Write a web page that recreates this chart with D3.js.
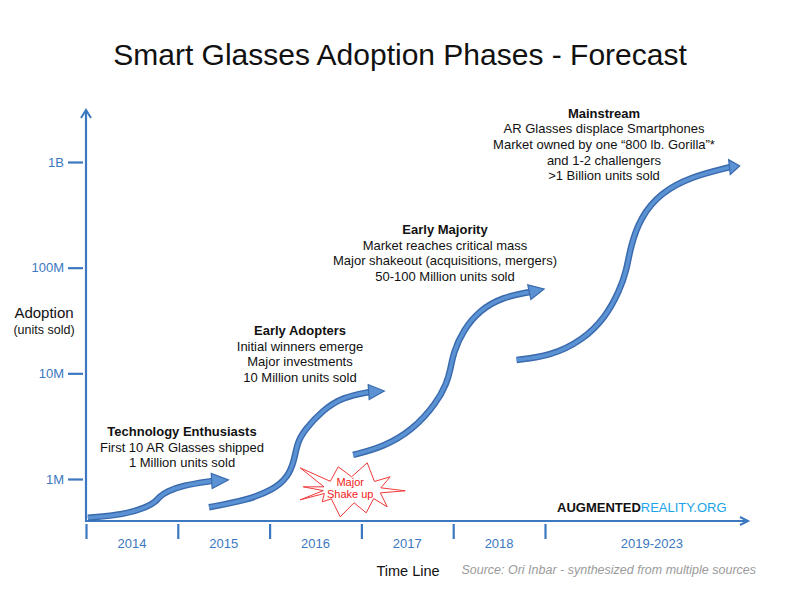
<!DOCTYPE html>
<html>
<head>
<meta charset="utf-8">
<script src="https://cdn.jsdelivr.net/npm/d3@7"></script>
<style>
  body { margin: 0; background: #fff; }
  text { font-family: "Liberation Sans", Arial, Helvetica, sans-serif; }
</style>
</head>
<body>
<svg id="chart" width="800" height="600"></svg>
<script>
// time line periods
var periods = ["2014", "2015", "2016", "2017", "2018", "2019-2023"];
var periodStarts = [2014, 2015, 2016, 2017, 2018, 2019];
var periodEnds = [2015, 2016, 2017, 2018, 2019, 2021.33];

// adoption ticks (units sold, log)
var adoptionTicks = [1e6, 1e7, 1e8, 1e9];
var adoptionLabels = ["1M", "10M", "100M", "1B"];

// the four phase curves: year, units sold. last point is the arrow tip
var enthusiastsYears = [2014.02, 2014.42, 2014.66, 2014.76, 2014.80, 2014.88, 2015.05, 2015.38, 2015.55];
var enthusiastsUnits = [0.43e6, 0.46e6, 0.54e6, 0.61e6, 0.68e6, 0.76e6, 0.87e6, 0.96e6, 0.98e6];

var adoptersYears = [2015.34, 2015.75, 2016.04, 2016.20, 2016.27, 2016.30, 2016.38, 2016.58, 2016.80, 2017.09, 2017.25];
var adoptersUnits = [0.54e6, 0.63e6, 0.79e6, 1.04e6, 1.51e6, 2.19e6, 2.91e6, 4.5e6, 5.97e6, 6.66e6, 6.8e6];

var majorityYears = [2016.91, 2017.24, 2017.56, 2017.82, 2017.93, 2017.97, 2018.00, 2018.11, 2018.29, 2018.54, 2018.84, 2018.99];
var majorityUnits = [1.69e6, 2.01e6, 2.91e6, 5.24e6, 8.1e6, 10.8e6, 15.6e6, 25.7e6, 39.7e6, 52.7e6, 58.9e6, 62.8e6];

var mainstreamYears = [2018.69, 2019.05, 2019.41, 2019.66, 2019.81, 2019.89, 2019.93, 2020.04, 2020.26, 2020.58, 2021.02, 2021.12];
var mainstreamUnits = [13.4e6, 14.5e6, 20.5e6, 34e6, 60e6, 95e6, 157e6, 301e6, 509e6, 721e6, 897e6, 917e6];

// phase texts
var phaseTitles = ["Technology Enthusiasts", "Early Adopters", "Early Majority", "Mainstream"];
var phaseNotes = [
  ["First 10 AR Glasses shipped", "1 Million units sold"],
  ["Initial winners emerge", "Major investments", "10 Million units sold"],
  ["Market reaches critical mass", "Major shakeout (acquisitions, mergers)", "50-100 Million units sold"],
  ["AR Glasses displace Smartphones", "Market owned by one \u201c800 lb. Gorilla\u201d*", "and 1-2 challengers", ">1 Billion units sold"]
];

// shake up star: centre (year, units) and spike offsets
var shakeYear = 2016.9, shakeUnits = 0.79e6;
var shakeSpikes = [[-52, -22], [-14, -23], [15, -27], [38, -13], [53, 1], [35, 17], [14, 23], [-12, 27], [-30, 12], [-52, 10], [-49, -3]];

var blue = "#3b78c0";
var arrowDark = "#3a6aad";
var arrowLight = "#5a92d4";

var svg = d3.select("#chart");

var x = d3.scaleLinear().domain([2014, 2019]).range([86, 545]);
var y = d3.scaleLog().domain([1e6, 1e9]).range([479, 162]);

// title
svg.append("text")
  .attr("x", 400).attr("y", 65)
  .attr("text-anchor", "middle")
  .attr("font-size", 30)
  .attr("fill", "#111")
  .text("Smart Glasses Adoption Phases - Forecast");

// y axis
var yAxis = d3.axisLeft(y)
  .tickValues(adoptionTicks)
  .tickSize(18)
  .tickPadding(4)
  .tickFormat(function(d, i) { return adoptionLabels[i]; });

var yg = svg.append("g")
  .attr("transform", "translate(86,0)")
  .call(yAxis);
yg.select(".domain").remove();
yg.selectAll(".tick line").attr("x1", -3).attr("stroke", blue).attr("stroke-width", 2.2);
yg.selectAll(".tick text")
  .attr("fill", blue)
  .attr("font-size", 13)
  .attr("font-family", "Liberation Sans, Arial, sans-serif");

svg.append("line")
  .attr("x1", 86).attr("x2", 86)
  .attr("y1", 522).attr("y2", 111)
  .attr("stroke", blue).attr("stroke-width", 2.2);
svg.append("path")
  .attr("d", "M81,118 L86,110 L91,118")
  .attr("fill", "none").attr("stroke", blue).attr("stroke-width", 2);

// x axis
var xAxis = d3.axisBottom(x)
  .tickValues(periodStarts)
  .tickSize(0)
  .tickFormat("");

var xg = svg.append("g")
  .attr("transform", "translate(0,520)")
  .call(xAxis);
xg.select(".domain").remove();
xg.selectAll(".tick line").attr("y1", 4).attr("y2", 19).attr("stroke", blue).attr("stroke-width", 2.2);

svg.append("line")
  .attr("x1", 85).attr("x2", 747)
  .attr("y1", 521).attr("y2", 521)
  .attr("stroke", blue).attr("stroke-width", 2.2);
svg.append("path")
  .attr("d", "M740,517 L748,521 L740,525")
  .attr("fill", "none").attr("stroke", blue).attr("stroke-width", 2);

svg.append("g").selectAll("text")
  .data(periods)
  .enter().append("text")
  .attr("x", function(d, i) { return (x(periodStarts[i]) + x(periodEnds[i])) / 2; })
  .attr("y", 548)
  .attr("text-anchor", "middle")
  .attr("font-size", 13)
  .attr("fill", blue)
  .text(function(d) { return d; });

// axis titles
svg.append("text")
  .attr("x", 44).attr("y", 318)
  .attr("text-anchor", "middle")
  .attr("font-size", 15)
  .attr("fill", "#111")
  .text("Adoption");
svg.append("text")
  .attr("x", 44).attr("y", 334)
  .attr("text-anchor", "middle")
  .attr("font-size", 12.5)
  .attr("fill", "#111")
  .text("(units sold)");
svg.append("text")
  .attr("x", 408).attr("y", 576)
  .attr("text-anchor", "middle")
  .attr("font-size", 14.5)
  .attr("fill", "#111")
  .text("Time Line");

svg.append("text")
  .attr("x", 756).attr("y", 574)
  .attr("text-anchor", "end")
  .attr("font-size", 12.5)
  .attr("font-style", "italic")
  .attr("fill", "#9a9a9a")
  .text("Source: Ori Inbar - synthesized from multiple sources");

var brand = svg.append("text")
  .attr("x", 557).attr("y", 512)
  .attr("font-size", 13);
brand.append("tspan").attr("font-weight", "bold").attr("fill", "#111").text("AUGMENTED");
brand.append("tspan").attr("fill", "#1aa3e8").text("REALITY.ORG");

// phase arrows
var line = d3.line()
  .x(function(d) { return x(d[0]); })
  .y(function(d) { return y(d[1]); })
  .curve(d3.curveBasis);

function drawArrow(years, units) {
  var pts = years.map(function(t, i) { return [t, units[i]]; });
  var body = pts.slice(0, -1);
  var base = body[body.length - 1], tip = pts[pts.length - 1];
  var g = svg.append("g");
  g.append("path").attr("d", line(body))
    .attr("fill", "none").attr("stroke", arrowDark).attr("stroke-width", 6.5);
  g.append("path").attr("d", line(body))
    .attr("fill", "none").attr("stroke", arrowLight).attr("stroke-width", 3.6);

  var bx = x(base[0]), by = y(base[1]), tx = x(tip[0]), ty = y(tip[1]);
  var a = Math.atan2(ty - by, tx - bx);
  var px = -Math.sin(a) * 7.5, py = Math.cos(a) * 7.5;
  var bx2 = bx - Math.cos(a) * 1, by2 = by - Math.sin(a) * 1;
  g.append("path")
    .attr("d", "M" + tx + "," + ty + " L" + (bx2 + px) + "," + (by2 + py) + " L" + (bx2 - px) + "," + (by2 - py) + " Z")
    .attr("fill", arrowLight).attr("stroke", arrowDark).attr("stroke-width", 1.2)
    .attr("stroke-linejoin", "miter");
}

drawArrow(enthusiastsYears, enthusiastsUnits);
drawArrow(adoptersYears, adoptersUnits);
drawArrow(majorityYears, majorityUnits);
drawArrow(mainstreamYears, mainstreamUnits);

// phase labels
var phaseLayout = [
  { cx: 182, y0: 436 },
  { cx: 300, y0: 335 },
  { cx: 445, y0: 234 },
  { cx: 604, y0: 117.5 }
];
phaseTitles.forEach(function(t, i) {
  var lay = phaseLayout[i];
  var txt = svg.append("text")
    .attr("text-anchor", "middle")
    .attr("font-size", 13)
    .attr("fill", "#111");
  txt.append("tspan").attr("x", lay.cx).attr("y", lay.y0)
    .attr("font-weight", "bold").text(t);
  phaseNotes[i].forEach(function(n, j) {
    txt.append("tspan").attr("x", lay.cx).attr("y", lay.y0 + 15.7 * (j + 1)).text(n);
  });
});

// shake up starburst
var sx = x(shakeYear), sy = y(shakeUnits);
var starPts = [];
shakeSpikes.forEach(function(s, i) {
  var nxt = shakeSpikes[(i + 1) % shakeSpikes.length];
  starPts.push([sx + s[0], sy + s[1]]);
  var a1 = Math.atan2(s[1], s[0]), a2 = Math.atan2(nxt[1], nxt[0]);
  if (a2 < a1) a2 += 2 * Math.PI;
  var am = (a1 + a2) / 2;
  starPts.push([sx + Math.cos(am) * 29, sy + Math.sin(am) * 13]);
});
svg.append("path")
  .attr("d", d3.line()(starPts) + "Z")
  .attr("fill", "#fff")
  .attr("stroke", "#f03a3a")
  .attr("stroke-width", 1);
svg.append("text")
  .attr("text-anchor", "middle")
  .attr("font-size", 11)
  .attr("fill", "#f02020")
  .selectAll("tspan")
  .data(["Major", "Shake up"])
  .enter().append("tspan")
  .attr("x", sx - 2)
  .attr("y", function(d, i) { return sy - 4 + i * 12; })
  .text(function(d) { return d; });
</script>
</body>
</html>
